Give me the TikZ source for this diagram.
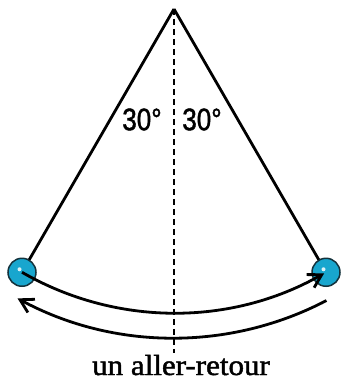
\documentclass[tikz,border=0pt]{standalone}
\usepackage{fontspec}
\setmainfont{Liberation Serif}[FakeBold=1.5]
\newfontfamily\lsans{Liberation Sans}[FakeBold=1.5]
\usetikzlibrary{arrows.meta,calc}
\definecolor{ballcyan}{RGB}{24,166,206}
\definecolor{balledge}{RGB}{20,50,60}
\tikzset{
  string/.style={line width=2.8pt, black},
  swing/.style={line width=2.8pt, black, -{Straight Barb[length=13pt,width=15pt,line width=2.8pt]}},
  ball/.style={circle, fill=ballcyan, draw=balledge, line width=1.5pt, minimum size=28pt, inner sep=0pt},
  anglabel/.style={font=\lsans\fontsize{31}{31}\selectfont, xscale=0.84, inner sep=0pt},
  shine/.style={fill=white, fill opacity=0.85},
}
\begin{document}
\begin{tikzpicture}[x=1pt,y=1pt]
\useasboundingbox (0,0) rectangle (340,380);
\coordinate (apex) at (174,371);
\coordinate (L) at ($(apex)+(240:304)$);
\coordinate (R) at ($(apex)+(300:304)$);
\coordinate (dashend) at (174,27);
\draw[line width=1.6pt, dash pattern=on 6pt off 4pt] (apex) -- (dashend);
\draw[string] (apex) -- (L);
\draw[string] (apex) -- (R);
\node[ball] (lb) at (L) {};
\node[ball] (rb) at (R) {};
\fill[shine] ($(L)+(-2.5,3)$) circle (2pt);
\fill[shine] ($(R)+(-2.5,3)$) circle (2pt);
\draw[swing] (L) arc[start angle=240, end angle=299.6, radius=304];
\coordinate (lowstart) at ($(apex)+(297.6:329)$);
\draw[swing] (lowstart) arc[start angle=297.6, end angle=241.6, radius=329];
\node[anglabel] (a1) at (142,260.5) {30°};
\node[anglabel] (a2) at (202,260.5) {30°};
\node[anchor=base, inner sep=0pt, xscale=1.07, font=\fontsize{29}{29}\selectfont] (cap) at (181,5) {un aller-retour};
\end{tikzpicture}
\end{document}
